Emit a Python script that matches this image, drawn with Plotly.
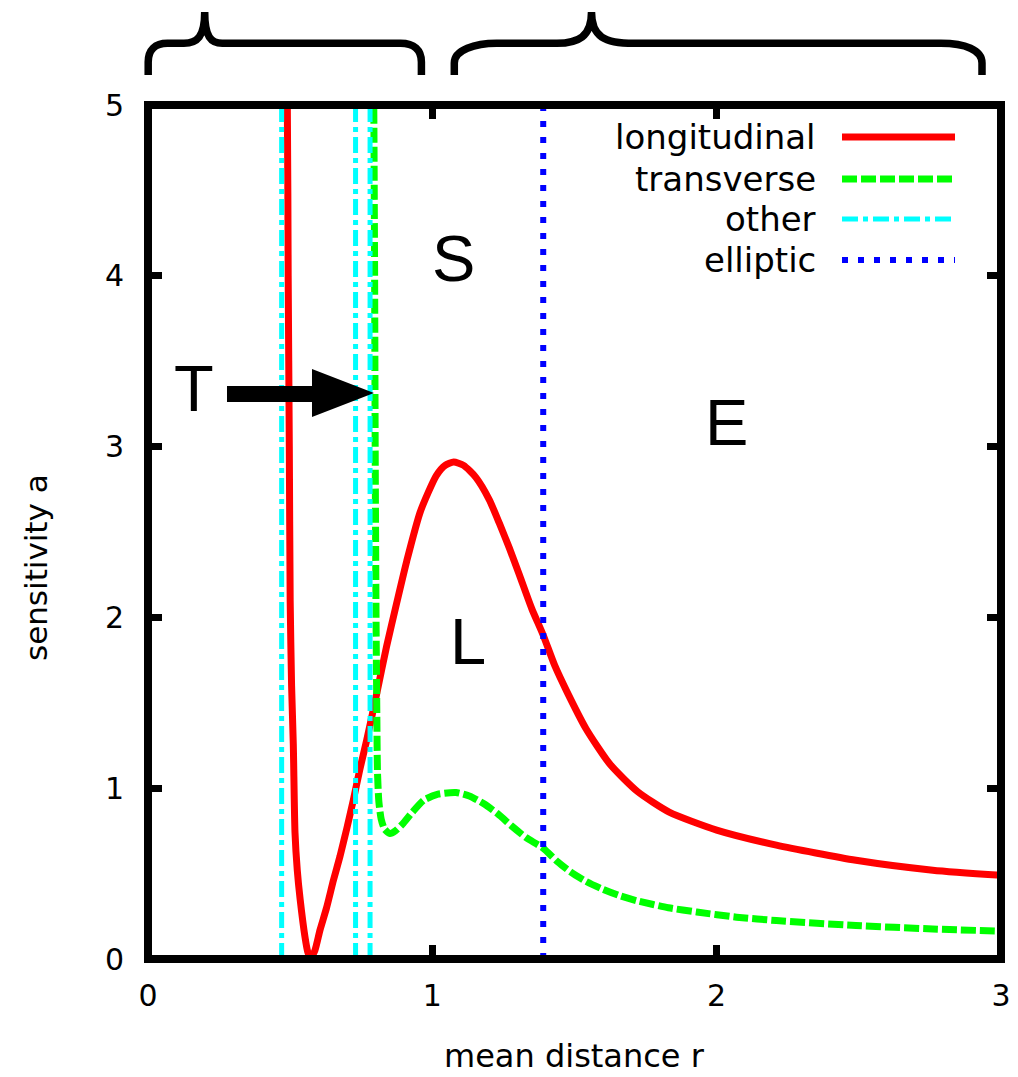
import plotly.graph_objects as go

# ---------------- data ----------------
long_r = [0.486, 0.490, 0.493, 0.497, 0.500, 0.505, 0.511, 0.517, 0.525, 0.535,
          0.552, 0.562, 0.572, 0.587, 0.605, 0.628, 0.652, 0.675, 0.700, 0.722,
          0.745, 0.769, 0.804, 0.839, 0.874, 0.910, 0.958, 1.014, 1.045, 1.075,
          1.110, 1.153, 1.200, 1.236, 1.270, 1.306, 1.350, 1.389, 1.430, 1.472,
          1.540, 1.625, 1.722, 1.833, 2.000, 2.210, 2.490, 2.760, 3.000]
long_a = [5.20, 5.00, 4.00, 3.00, 2.10, 1.60, 1.26, 0.74, 0.52, 0.35,
          0.13, 0.04, 0.005, 0.05, 0.17, 0.30, 0.46, 0.60, 0.77, 0.93,
          1.11, 1.28, 1.55, 1.83, 2.08, 2.33, 2.62, 2.83, 2.89, 2.91,
          2.89, 2.82, 2.69, 2.55, 2.41, 2.25, 2.05, 1.90, 1.72, 1.57,
          1.35, 1.14, 0.98, 0.86, 0.755, 0.667, 0.578, 0.52, 0.49]

trans_r = [0.792, 0.794, 0.797, 0.799, 0.802, 0.805, 0.807, 0.812, 0.820, 0.832,
           0.851, 0.870, 0.895, 0.930, 0.970, 1.020, 1.083, 1.130, 1.180, 1.230,
           1.278, 1.330, 1.389, 1.440, 1.486, 1.540, 1.597, 1.660, 1.722, 1.830,
           1.930, 2.070, 2.210, 2.490, 2.760, 3.000]
trans_a = [5.20, 5.00, 4.00, 3.00, 2.00, 1.40, 1.10, 0.92, 0.82, 0.76,
           0.735, 0.75, 0.79, 0.86, 0.93, 0.965, 0.975, 0.955, 0.91, 0.85,
           0.78, 0.71, 0.65, 0.57, 0.51, 0.455, 0.41, 0.37, 0.34, 0.30,
           0.275, 0.245, 0.225, 0.196, 0.176, 0.163]

other_r = [0.470, 0.730, 0.781]
elliptic_r = [1.39]

x_ticks = [0, 1, 2, 3]
y_ticks = [0, 1, 2, 3, 4, 5]

series_names = ["longitudinal", "transverse", "other", "elliptic"]
region_labels = ["T", "S", "E", "L"]

# ---------------- styles ----------------
RED, GREEN, CYAN, BLUE = "#ff0000", "#00ff00", "#00ffff", "#0000ff"
FONT = "DejaVu Sans"
styles = [
    dict(color=RED, width=7, dash="solid"),
    dict(color=GREEN, width=7, dash="15px,4px"),
    dict(color=CYAN, width=5, dash="16px,5px,5px,5px"),
    dict(color=BLUE, width=6, dash="6px,10px"),
]

# page body has an 8px margin: figure is placed at (8, 8) on screen
OFF = 8
W, H = 1018 - OFF, 1077 - OFF
L, R, T, B = 148, 1001, 105, 959          # plot frame in screen pixels


def px(xp):
    return (xp - L) / (R - L)


def py(yp):
    return (B - yp) / (B - T)


def P(xp, yp):
    return f"{px(xp):.5f},{py(yp):.5f}"


y_lo, y_hi = y_ticks[0], y_ticks[-1]


def vlines(rs):
    xs, ys = [], []
    for r in rs:
        xs += [r, r, None]
        ys += [y_lo, y_hi, None]
    return xs, ys


fig = go.Figure()
fig.add_trace(go.Scatter(x=long_r, y=long_a, mode="lines", name=series_names[0],
                         line=dict(**styles[0], shape="spline", smoothing=0.6),
                         showlegend=False))
fig.add_trace(go.Scatter(x=trans_r, y=trans_a, mode="lines", name=series_names[1],
                         line=dict(**styles[1], shape="spline", smoothing=0.6),
                         showlegend=False))
ox, oy = vlines(other_r)
fig.add_trace(go.Scatter(x=ox, y=oy, mode="lines", name=series_names[2],
                         line=styles[2], showlegend=False))
ex, ey = vlines(elliptic_r)
fig.add_trace(go.Scatter(x=ex, y=ey, mode="lines", name=series_names[3],
                         line=styles[3], showlegend=False))

shapes = []
annotations = []

# frame
shapes.append(dict(type="rect", xref="paper", yref="paper", x0=0, x1=1, y0=0, y1=1,
                   line=dict(color="black", width=8), layer="above"))

# legend (text right-aligned, sample on the right, like gnuplot)
row_y = [137, 179, 219, 260]
for name, st, yy in zip(series_names, styles, row_y):
    annotations.append(dict(xref="paper", yref="paper", x=px(818), y=py(yy),
                            xanchor="right", yanchor="middle", showarrow=False,
                            text=name, font=dict(family=FONT, size=34, color="black")))
    shapes.append(dict(type="line", xref="paper", yref="paper",
                       x0=px(842), x1=px(955), y0=py(yy), y1=py(yy),
                       line=dict(color=st["color"], width=st["width"], dash=st["dash"]),
                       layer="above"))

# region letters
letter_pos = [(194, 388), (453, 259), (726, 422), (468, 642)]
for lab, (xx, yy) in zip(region_labels, letter_pos):
    annotations.append(dict(xref="paper", yref="paper", x=px(xx), y=py(yy),
                            xanchor="center", yanchor="middle", showarrow=False,
                            text=lab, font=dict(family="Liberation Sans", size=65, color="black")))

# big arrow (T -> transverse)
arrow = (f"M {P(227,386)} L {P(312,386)} L {P(312,369)} L {P(374,393)} "
         f"L {P(312,417)} L {P(312,402)} L {P(227,402)} Z")
shapes.append(dict(type="path", xref="paper", yref="paper", path=arrow,
                   fillcolor="black", line=dict(width=0), layer="above"))

# braces above the plot
left_brace = (f"M {P(148.2,75)} L {P(148.2,62)} C {P(148.2,50)} {P(155,43.3)} {P(167.4,43.3)} "
              f"L {P(183.9,43.3)} C {P(197,43.3)} {P(204.7,37)} {P(204.7,12)} "
              f"C {P(204.7,37)} {P(211,43.3)} {P(222.3,43.3)} L {P(400.6,43.3)} "
              f"C {P(414,43.3)} {P(421.4,50)} {P(421.4,62)} L {P(421.4,75)}")
right_brace = (f"M {P(454.3,75)} L {P(454.3,63)} C {P(454.3,50)} {P(475,43.3)} {P(496.6,43.3)} "
               f"L {P(556.9,43.3)} C {P(578,43.3)} {P(591.5,37)} {P(591.5,12)} "
               f"C {P(591.5,37)} {P(605,43.3)} {P(633.7,43.3)} L {P(940.9,43.3)} "
               f"C {P(965,43.3)} {P(982,50)} {P(982,63)} L {P(982,75)}")
for pth in (left_brace, right_brace):
    shapes.append(dict(type="path", xref="paper", yref="paper", path=pth,
                       line=dict(color="black", width=7.5), layer="above"))

# axis titles
annotations.append(dict(xref="paper", yref="paper", x=0.5, y=py(1056),
                        xanchor="center", yanchor="middle", showarrow=False,
                        text="mean distance r", font=dict(family=FONT, size=32, color="black")))
annotations.append(dict(xref="paper", yref="paper", x=px(36), y=py(567),
                        xanchor="center", yanchor="middle", showarrow=False, textangle=-90,
                        text="sensitivity a", font=dict(family=FONT, size=31, color="black")))

fig.update_layout(
    width=W, height=H,
    margin=dict(l=L - OFF, r=W + OFF - R, t=T - OFF, b=H + OFF - B, autoexpand=False),
    paper_bgcolor="white", plot_bgcolor="white",
    showlegend=False,
    shapes=shapes, annotations=annotations,
    font=dict(family=FONT, size=30, color="black"),
)
fig.update_xaxes(range=[x_ticks[0], x_ticks[-1]], tickvals=x_ticks,
                 ticktext=[str(v) for v in x_ticks],
                 ticks="inside", ticklen=14, tickwidth=7, tickcolor="black",
                 mirror="ticks", showline=False, showgrid=False, zeroline=False,
                 ticklabelstandoff=16, tickfont=dict(family=FONT, size=30, color="black"))
fig.update_yaxes(range=[y_lo, y_hi], tickvals=y_ticks,
                 ticktext=[str(v) for v in y_ticks],
                 ticks="inside", ticklen=14, tickwidth=7, tickcolor="black",
                 mirror="ticks", showline=False, showgrid=False, zeroline=False,
                 ticklabelstandoff=23, tickfont=dict(family=FONT, size=30, color="black"))

fig.write_html("out.html")
